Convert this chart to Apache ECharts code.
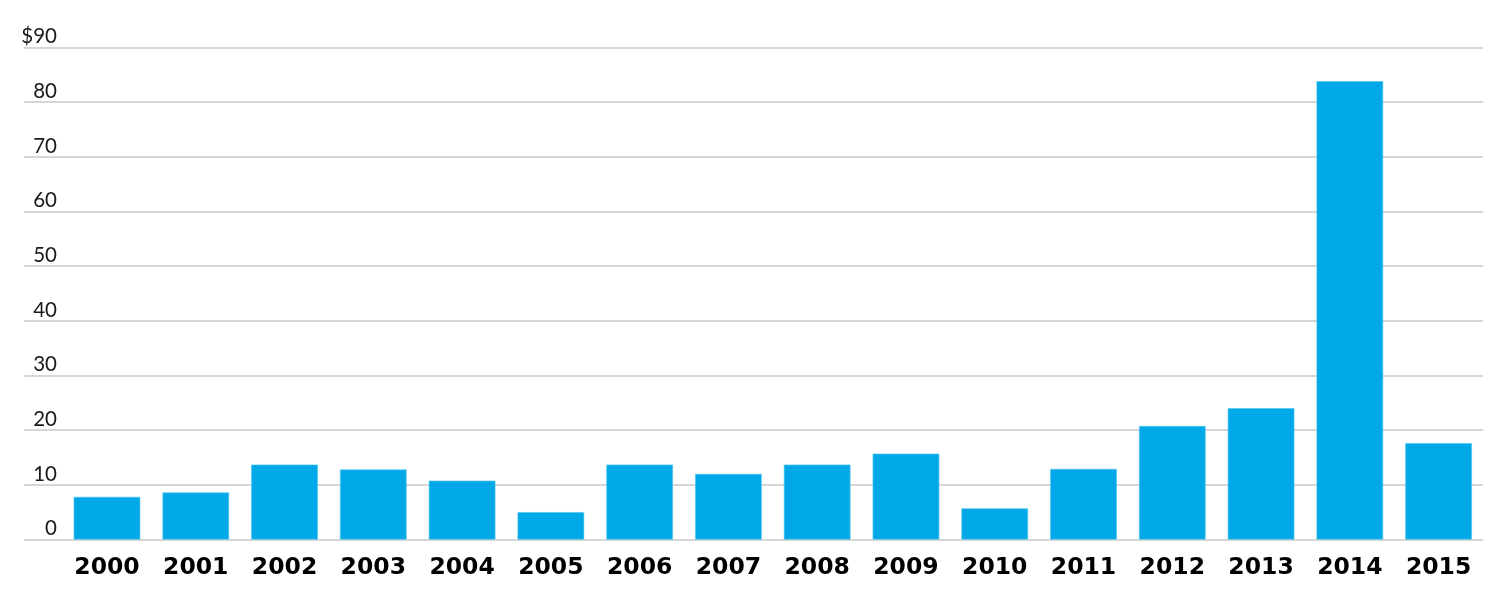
<!DOCTYPE html>
<html>
<head>
<meta charset="utf-8">
<script src="https://cdn.jsdelivr.net/npm/echarts@6/dist/echarts.min.js"></script>
<style>
html,body{margin:0;padding:0;background:#fff;}
#chart{width:1502px;height:594px;}
</style>
</head>
<body>
<div id="chart"></div>
<script>
const years = ['2000','2001','2002','2003','2004','2005','2006','2007','2008','2009','2010','2011','2012','2013','2014','2015'];
const values = [7.8, 8.6, 13.7, 12.8, 10.75, 5.0, 13.7, 12.0, 13.7, 15.7, 5.7, 12.9, 20.75, 24.0, 83.8, 17.6];
const yMin = 0, yMax = 90, yStep = 10;
const yTopLabelPrefix = '$';

const chart = echarts.init(document.getElementById('chart'));
const gridTop = 47.3, gridBottom = 54.5;
chart.setOption({
  animation: false,
  grid: [
    {left: 62.6, right: 19, top: gridTop, bottom: gridBottom},
    {left: 24, right: 19, top: gridTop, bottom: gridBottom}
  ],
  xAxis: [
    {
      type: 'category', gridIndex: 0, data: years,
      axisLine: {show: false}, axisTick: {show: false},
      axisLabel: {color: '#000', fontFamily: 'DejaVu Sans', fontWeight: 'bold', fontSize: 23.5, margin: 16}
    },
    {type: 'category', gridIndex: 1, data: years, show: false}
  ],
  yAxis: [
    {
      type: 'value', gridIndex: 0, min: yMin, max: yMax, interval: yStep,
      axisLine: {show: false}, axisTick: {show: false}, splitLine: {show: false},
      axisLabel: {
        color: '#1a1a1a', fontFamily: 'Lato', fontSize: 20.5, margin: 5.6,
        verticalAlign: 'bottom', align: 'right', lineHeight: 21.5,
        formatter: v => v === yMax ? yTopLabelPrefix + v : String(v)
      }
    },
    {
      type: 'value', gridIndex: 1, min: yMin, max: yMax, interval: yStep,
      axisLine: {show: false}, axisTick: {show: false}, axisLabel: {show: false},
      splitLine: {show: true, lineStyle: {color: '#d6d6d6', width: 2}}
    }
  ],
  series: [{
    type: 'bar', xAxisIndex: 0, yAxisIndex: 0, data: values,
    barCategoryGap: '25%', z: 5,
    itemStyle: {color: '#00A8E8', borderColor: '#4CC6F0', borderWidth: 0.6}
  }]
});
</script>
</body>
</html>
